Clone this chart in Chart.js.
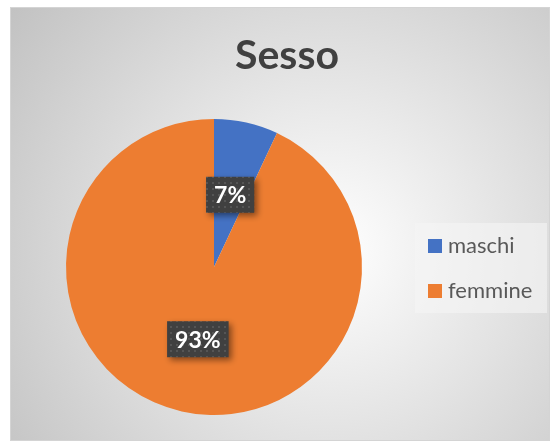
<!DOCTYPE html>
<html>
<head>
<meta charset="utf-8">
<script src="https://cdn.jsdelivr.net/npm/chart.js@4"></script>
<style>
  html, body { margin: 0; padding: 0; background: #fff; }
  canvas { display: block; }
</style>
</head>
<body>
<canvas id="grafico" width="550" height="442"></canvas>
<script>
// dati
const categorie = ['maschi', 'femmine'];
const percentuali = [7, 93];
const colori = ['#4472C4', '#ED7D31'];
const titolo = 'Sesso';

const FONT = 'Lato, "Open Sans", sans-serif';

// sfondo con gradiente radiale e bordo
const sfondo = {
  id: 'sfondo',
  beforeDraw(chart) {
    const ctx = chart.ctx;
    ctx.save();
    const g = ctx.createRadialGradient(330, 250, 0, 330, 250, 400);
    g.addColorStop(0, '#ffffff');
    g.addColorStop(1, '#c2c2c2');
    ctx.fillStyle = g;
    ctx.fillRect(11, 8, 538, 432);
    ctx.strokeStyle = '#d4d4d4';
    ctx.lineWidth = 1;
    ctx.strokeRect(10.5, 7.5, 539, 433);

    // titolo
    ctx.fillStyle = '#404040';
    ctx.font = 'bold 41px ' + FONT;
    ctx.textAlign = 'center';
    ctx.textBaseline = 'alphabetic';
    ctx.fillText(titolo, 287, 69);
    ctx.restore();
  }
};

// motivo a puntini per le etichette
function creaMotivo(ctx) {
  const c = document.createElement('canvas');
  c.width = 6; c.height = 6;
  const p = c.getContext('2d');
  p.fillStyle = '#404040';
  p.fillRect(0, 0, 6, 6);
  p.fillStyle = '#555555';
  p.fillRect(2, 2, 2, 2);
  return ctx.createPattern(c, 'repeat');
}

// etichette con percentuale
const etichette = {
  id: 'etichette',
  afterDatasetsDraw(chart) {
    const ctx = chart.ctx;
    const meta = chart.getDatasetMeta(0);
    const motivo = creaMotivo(ctx);
    ctx.save();
    ctx.font = 'bold 23px ' + FONT;
    ctx.textAlign = 'center';
    ctx.textBaseline = 'middle';
    meta.data.forEach((arc, i) => {
      const pos = arc.tooltipPosition();
      const testo = percentuali[i] + '%';
      const w = ctx.measureText(testo).width + 16;
      const h = 36;
      const x = pos.x - w / 2, y = pos.y - h / 2;
      ctx.save();
      ctx.shadowColor = 'rgba(0,0,0,0.45)';
      ctx.shadowBlur = 6;
      ctx.shadowOffsetX = 3;
      ctx.shadowOffsetY = 3;
      ctx.fillStyle = motivo;
      ctx.fillRect(x, y, w, h);
      ctx.restore();
      ctx.fillStyle = '#ffffff';
      ctx.fillText(testo, pos.x, pos.y + 1);
    });
    ctx.restore();
  }
};

// legenda a destra
const legenda = {
  id: 'legenda',
  afterDraw(chart) {
    const ctx = chart.ctx;
    ctx.save();
    ctx.fillStyle = 'rgba(245,245,245,0.6)';
    ctx.fillRect(415, 223, 132, 90);
    ctx.font = '22px ' + FONT;
    ctx.textAlign = 'left';
    ctx.textBaseline = 'middle';
    chart.data.labels.forEach((lab, i) => {
      const y = 246 + i * 45;
      ctx.fillStyle = chart.data.datasets[0].backgroundColor[i];
      ctx.fillRect(428, y - 7, 14, 14);
      ctx.fillStyle = '#595959';
      ctx.fillText(lab, 448, y);
    });
    ctx.restore();
  }
};

new Chart(document.getElementById('grafico').getContext('2d'), {
  type: 'pie',
  data: {
    labels: categorie,
    datasets: [{
      data: percentuali,
      backgroundColor: colori,
      borderWidth: 0
    }]
  },
  options: {
    responsive: false,
    animation: false,
    layout: { padding: { top: 119, bottom: 27, left: 66, right: 188 } },
    plugins: {
      legend: { display: false },
      title: { display: false },
      tooltip: { enabled: false }
    }
  },
  plugins: [sfondo, etichette, legenda]
});
</script>
</body>
</html>
